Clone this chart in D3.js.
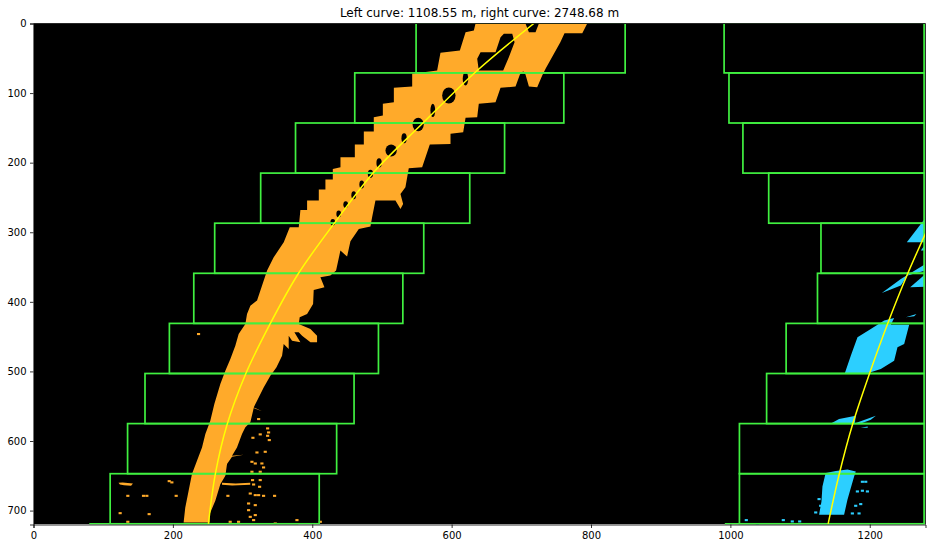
<!DOCTYPE html>
<html>
<head>
<meta charset="utf-8">
<script src="https://cdn.jsdelivr.net/npm/d3@7"></script>
<style>
  html, body { margin: 0; padding: 0; background: #fff; }
  text { font-family: "DejaVu Sans", sans-serif; }
</style>
</head>
<body>
<div id="viz-container"></div>
<script>
let w = 936, h = 549;

// sliding windows, bottom row first
let windowTops = [647, 575, 503, 431, 359, 287, 215, 143, 71, -1];
let windowHeight = 72;
let leftWindowX = [110, 135, 160, 195, 230, 260, 326, 376, 461, 549];
let rightWindowX = [1013, 1013, 1052, 1080, 1125, 1130, 1055, 1018, 998, 991];
let windowWidth = 300;
let bottomEdgeLeft = [80, 380];
let bottomEdgeRight = [992, 1278];

// left lane pixels, traced outline [x, y]
let leftLane = [
  [215.4,717],[217.8,695.5],[222.6,671.5],[227.4,647.5],[234.6,628.4],[241.8,609.2],[246.6,590],[253.7,570.8],
  [259.5,546.9],[268.1,518.1],[275.3,499],[282.5,482.2],[289.6,463],[294.4,446.2],[304,431.8],[306.4,417.5],
  [311.2,405.5],[320.8,398],[335.2,355.1],[344.7,336],[359.1,314.4],[367.7,292.8],[380.6,292.8],[383,267.9],
  [392.6,267.9],[392.6,254.5],[409.4,254.5],[409.4,238.7],[418.9,238.7],[418.9,224.3],[429.5,224.3],[429.5,209],
  [440.5,206.5],[440.5,192.2],[461.1,192.2],[461.1,174],[474,174],[474,155.3],[488.3,155.3],[488.3,134.7],
  [501.3,132.3],[501.3,115.5],[517.1,113.1],[517.1,92.5],[543.4,90.6],[543.4,72.3],[579.2,67.6],[584,42.2],
  [611.8,38.8],[620,12.4],[631.9,10],[634.3,0],
  [794.6,0],[787.5,13.9],[762,13.9],[756,26.8],[744,48.4],[734.8,65.2],[730,74.7],[722.8,91.5],[710.9,90.6],
  [706,73.3],[702.7,68.5],[698,73.3],[691.7,90.6],[670.2,92.5],[663,113],[639,115.5],[636.7,134.7],[620,135.6],
  [616.6,156.2],[598.4,158.6],[598.4,173],[568.7,174],[557.7,206.5],[538.5,208],[533.7,235.3],[526.6,244.9],[530.4,259.3],
  [526.6,266.5],[519.4,254.5],[490.7,254.5],[485.9,278.4],[483.5,291.9],[466.8,295.2],[454.8,313],[450,335],
  [440.4,326.4],[434.2,355.1],[426,362.3],[411.7,364.7],[417.5,379.1],[402.1,383],[401.2,403],[392.6,417.5],
  [382,422.3],[380.6,431.8],[397.4,439],[406.9,448.6],[406.9,458.2],[397.4,458.2],[385.4,448.6],[380.6,443.8],
  [374.4,443.8],[383,458.2],[371,455.8],[366.2,448.6],[366.2,467.8],[359,460.6],[356.7,477.4],[348.5,494.2],
  [339.9,506.1],[330.3,523],[320.8,542.1],[316,551.7],[328,557.4],[316,552.6],[311.2,573.2],[304,580.4],
  [299.2,590],[292,609.2],[284.9,621.2],[301.6,619.7],[284.9,622.6],[277.7,633.2],[275.3,650],[268.1,662],
  [260.9,686],[252.8,705],[252.8,717]
];
let leftStreaks = [
  [[270.5,660],[290,661],[311,660],[311,663],[285,664],[270.5,663]],
  [[122,660],[128,659.5],[142.7,661],[140,664.3],[130,663.5],[124,662.5]]
];
// gaps in the left lane
let leftGaps = [
  [[675,14.8],[687,14.8],[690.3,26.8],[682.1,48.4],[674,67.6],[639,67.6],[636.7,50.8],[641.5,41.2],[663,41.2],[670.2,19.6]],
  [[706,0],[725.2,0],[720.4,12.4],[710.9,12.4]]
];
// cx, cy, rx, ry
let leftHoles = [
  [619.9,79.5,4,9.5],[596,103.5,9.6,11.5],[573,125,3.4,9.5],[552,145.2,8,9.6],[531.8,164.8,3.8,7.2],
  [513.2,182.6,8.1,8.6],[495.9,200.3,3.8,6.7],[483.5,216.1,3.8,5.8],[471,231.5,3.4,5.8],[459.5,246.8,3.4,5.8],
  [448,260.2,3.4,4.8],[438,273.7,3.4,4.8],[429.5,285.6,3.4,4.8]
];
let leftSpecks = [
  [234.6,444.8],[320.8,567],[333.7,580.4],[335.1,586.2],[333.7,591],[336.1,597.2],[312.6,593.9],[323.1,589],
  [330.3,614],[318.4,615],[311.2,628.4],[316,630.8],[325.5,630.8],[327.9,636.5],[311.2,642.7],[323.1,642.7],
  [312.1,654.7],[323.1,654.7],[313.6,661],[322.2,664.3],[308.8,674],[316,676.3],[320.8,676.3],[327.9,677.3],
  [306.4,688.3],[316,690.7],[306.4,697.9],[316,705],[308.8,707.5],[313.6,712.2],[133.1,677.3],[155.6,677.3],
  [160.4,677.3],[202.5,677.3],[276.7,677.3],[343.7,677.3],[122.1,702.2],[163.7,703.6],[133.1,714.6],[192.5,656.2],
  [196.3,658],[280,714.6],[292,714.6],[344.7,717],[375.8,712.2],[409.3,714.6]
];

// right lane pieces
let rightLane = [
  [[1136.9,646],[1151.3,643],[1168,641],[1180,643.7],[1177.6,650.9],[1172.8,667.7],[1168,684.4],[1163.2,706],[1127.3,706],[1130.7,686.8],[1132.1,665.3],[1135.5,650.9]],
  [[1145.5,574],[1156,568.4],[1180,563.6],[1178.6,574]],
  [[1180,574],[1208.7,563.6],[1201.5,569.4],[1187.2,575]],
  [[1187,581],[1197,579],[1197,581]],
  [[1164.2,502.8],[1172.8,477.4],[1182.4,451],[1201.5,439],[1220.7,427],[1235,423.2],[1230.3,432.8],[1256.6,432.8],[1249.4,460.6],[1239.8,465.4],[1235,484.6],[1215.9,496.5],[1196.8,502.8]],
  [[1217.3,387.3],[1244.6,367.1],[1280,345.6],[1280,355],[1254.2,362.3],[1244.6,376.7]],
  [[1258,379.1],[1280,360],[1280,378.2]],
  [[1251.8,422.3],[1267,417.5],[1263.8,420.8]],
  [[1253.2,314.4],[1273.3,288],[1280,279.4],[1280,314.4]],
  [[1273.3,326.4],[1280,316.8],[1280,326.4]]
];
let rightSpecks = [
  [1187.2,657.1],[1192,657.1],[1180,671],[1187.2,670],[1194.4,671],[1177.6,691.6],[1184.8,689.2],[1172.8,702.6],
  [1182.4,702.6],[1020.6,712.2],[1036.4,718],[1073.7,712.2],[1086.6,714.1],[1097.2,714.1],[1125,682],[1120.2,701.2],[1127.3,691.6]
];

// fitted curves
let leftFit = [
  [251,719],[260.9,647.5],[277.7,576.6],[304,504.7],[339.9,431],[379.7,360],[431,288],[488.3,213.7],[560,142],[636.7,67.6],[718,0]
];
let rightFit = [
  [1140.3,719],[1156,648.5],[1175.2,576.6],[1199.1,504.7],[1225.5,431.8],[1254.2,360],[1281.5,298.6]
];

let xTicks = [0, 200, 400, 600, 800, 1000, 1200];
let yTicks = [0, 100, 200, 300, 400, 500, 600, 700];
let title = "Left curve: 1108.55 m, right curve: 2748.68 m";

let orange = "#ffaa2a";
let blue = "#2ccfff";
let green = "#40f040";

let viz = d3.select("#viz-container")
    .append("svg")
    .attr("id", "viz")
    .attr("width", w)
    .attr("height", h)
    .style("display", "block")
;

let xScale = d3.scaleLinear().domain([0, 1280]).range([33.5, 925.5]);
let yScale = d3.scaleLinear().domain([0, 720]).range([23.5, 524.5]);

viz.append("clipPath").attr("id", "plot-clip").append("rect")
    .attr("x", 33.5).attr("y", 23.5).attr("width", 892).attr("height", 501);

let plot = viz.append("g").attr("clip-path", "url(#plot-clip)");

plot.append("rect")
    .attr("x", xScale(0))
    .attr("y", yScale(0))
    .attr("width", xScale(1279.5) - xScale(0))
    .attr("height", yScale(719.5) - yScale(0))
    .attr("fill", "black");

let outline = d3.line().x(d => xScale(d[0])).y(d => yScale(d[1]));

function polygons(list, color) {
    plot.append("g").selectAll("path").data(list).enter()
        .append("path")
        .attr("d", d => outline(d) + "Z")
        .attr("fill", color);
}

polygons([leftLane], orange);
polygons(leftGaps, "black");
plot.append("g").selectAll("ellipse").data(leftHoles).enter()
    .append("ellipse")
    .attr("cx", d => xScale(d[0]))
    .attr("cy", d => yScale(d[1]))
    .attr("rx", d => xScale(d[2]) - xScale(0))
    .attr("ry", d => yScale(d[3]) - yScale(0))
    .attr("fill", "black");
polygons(leftStreaks, orange);
polygons(rightLane, blue);

function specks(list, color) {
    plot.append("g").selectAll("rect").data(list).enter()
        .append("rect")
        .attr("x", d => xScale(d[0]))
        .attr("y", d => yScale(d[1]))
        .attr("width", xScale(4.5) - xScale(0))
        .attr("height", yScale(3) - yScale(0))
        .attr("fill", color);
}
specks(leftSpecks, orange);
specks(rightSpecks, blue);

// windows
function windows(starts, clampRight) {
    plot.append("g").selectAll("rect").data(starts).enter()
        .append("rect")
        .attr("x", d => xScale(d))
        .attr("y", (d, i) => yScale(windowTops[i]))
        .attr("width", d => xScale(clampRight ? Math.min(d + windowWidth, 1278) : d + windowWidth) - xScale(d))
        .attr("height", yScale(windowHeight) - yScale(0))
        .attr("fill", "none")
        .attr("stroke", green)
        .attr("stroke-width", 1.7);
}
windows(leftWindowX, false);
windows(rightWindowX, true);

[bottomEdgeLeft, bottomEdgeRight].forEach(function(edge) {
    plot.append("line")
        .attr("x1", xScale(edge[0])).attr("x2", xScale(edge[1]))
        .attr("y1", yScale(719)).attr("y2", yScale(719))
        .attr("stroke", green).attr("stroke-width", 1.7);
});

let fitLine = d3.line().x(d => xScale(d[0])).y(d => yScale(d[1])).curve(d3.curveCatmullRom);
[leftFit, rightFit].forEach(function(fit) {
    plot.append("path")
        .attr("d", fitLine(fit))
        .attr("fill", "none")
        .attr("stroke", "yellow")
        .attr("stroke-width", 1.5);
});

// axes
let xAxis = d3.axisBottom(xScale).tickValues(xTicks).tickSize(3.5).tickPadding(3.5).tickFormat(d3.format("d"));
let yAxis = d3.axisLeft(yScale).tickValues(yTicks).tickSize(3.5).tickPadding(3.5).tickFormat(d3.format("d"));
let xAxisGroup = viz.append("g").attr("transform", "translate(0,524.5)").call(xAxis);
let yAxisGroup = viz.append("g").attr("transform", "translate(33.5,0)").call(yAxis);
[xAxisGroup, yAxisGroup].forEach(function(g) {
    g.selectAll("text").attr("fill", "black").style("font-size", "10px").style("font-family", "DejaVu Sans");
    g.selectAll("line").attr("stroke", "black").attr("stroke-width", 0.8);
    g.select(".domain").attr("stroke", "black").attr("stroke-width", 0.8);
});
viz.append("line").attr("x1", 925.5).attr("x2", 925.5).attr("y1", 23.5).attr("y2", 524.5).attr("stroke", "black").attr("stroke-width", 0.8);
viz.append("line").attr("x1", 33.5).attr("x2", 925.5).attr("y1", 23.5).attr("y2", 23.5).attr("stroke", "black").attr("stroke-width", 0.8);

viz.append("text")
    .attr("x", 479.5)
    .attr("y", 17)
    .attr("text-anchor", "middle")
    .style("font-size", "12px")
    .attr("fill", "black")
    .text(title);
</script>
</body>
</html>
